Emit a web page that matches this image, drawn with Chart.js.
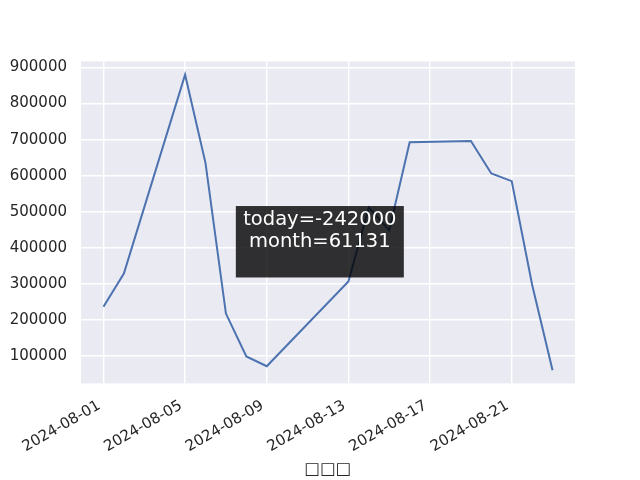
<!DOCTYPE html>
<html>
<head>
  <meta charset="UTF-8">
  <title>Line chart</title>
  <script src="https://cdn.jsdelivr.net/npm/chart.js"></script>
  <style>
    html, body { margin: 0; padding: 0; background: #ffffff; }
    #wrap { width: 640px; height: 480px; }
  </style>
</head>
<body>
  <div id="wrap"><canvas id="lineChart" width="640" height="480"></canvas></div>

  <script>
    // days of August 2024 that have a value
    const days = [1, 2, 5, 6, 7, 8, 9, 13, 14, 15, 16, 19, 20, 21, 22, 23];
    const values = [237000, 329000, 880000, 635000, 218000, 99000, 72000, 307000,
                    512000, 449000, 693000, 696000, 606000, 585000, 298000, 61131];
    const xTickDays = [1, 5, 9, 13, 17, 21];
    const yTicks = [100000, 200000, 300000, 400000, 500000, 600000, 700000, 800000, 900000];
    const xTitle = '□□□';
    const noteLines = ['today=-242000', 'month=61131'];

    const fontFamily = "'DejaVu Sans', sans-serif";

    function dayLabel(d) {
      // trailing space nudges the rotated label a little left/down
      return '2024-08-' + String(d).padStart(2, '0') + ' ';
    }

    // dark text box in the middle of the plot
    const notePlugin = {
      id: 'noteBox',
      afterDatasetsDraw(chart) {
        const ctx = chart.ctx;
        const x = chart.scales.x, y = chart.scales.y;
        const cx = x.getPixelForValue(11.6);
        const top = y.getPixelForValue(516000);
        const bottom = y.getPixelForValue(318000);
        const w = 168;
        ctx.save();
        ctx.fillStyle = 'rgba(0,0,0,0.8)';
        ctx.fillRect(cx - w / 2, top, w, bottom - top);
        ctx.fillStyle = '#ffffff';
        ctx.font = '19.5px ' + fontFamily;
        ctx.textAlign = 'center';
        ctx.textBaseline = 'middle';
        ctx.fillText(noteLines[0], cx, top + 14);
        ctx.fillText(noteLines[1], cx, top + 36);
        ctx.restore();
      }
    };

    // seaborn-like grey plot background
    const bgPlugin = {
      id: 'plotBg',
      beforeDraw(chart) {
        const a = chart.chartArea;
        chart.ctx.save();
        chart.ctx.fillStyle = '#eaeaf2';
        chart.ctx.fillRect(a.left, a.top, a.right - a.left, a.bottom - a.top);
        chart.ctx.restore();
      }
    };

    new Chart(document.getElementById('lineChart').getContext('2d'), {
      type: 'line',
      data: {
        datasets: [{
          data: days.map((d, i) => ({ x: d, y: values[i] })),
          borderColor: '#4c72b0',
          borderWidth: 2,
          pointRadius: 0,
          fill: false,
          tension: 0
        }]
      },
      options: {
        responsive: false,
        animation: false,
        layout: { padding: { left: 0, right: 65, top: 61.5, bottom: 0 } },
        plugins: {
          legend: { display: false },
          tooltip: { enabled: false }
        },
        scales: {
          x: {
            type: 'linear',
            min: -0.1,
            max: 24.1,
            afterBuildTicks(scale) {
              scale.ticks = xTickDays.map(v => ({ value: v }));
            },
            afterFit(scale) { scale.height = 96.6; },
            border: { display: false },
            grid: { color: '#ffffff', lineWidth: 1.4, drawTicks: false },
            ticks: {
              autoSkip: false,
              maxRotation: 30,
              minRotation: 30,
              padding: 11,
              color: '#262626',
              font: { family: fontFamily, size: 15 },
              callback: v => dayLabel(v)
            },
            title: {
              display: true,
              text: xTitle,
              color: '#262626',
              font: { family: fontFamily, size: 16.5 },
              padding: { top: 0, bottom: 0 }
            }
          },
          y: {
            min: 24500,
            max: 916500,
            afterBuildTicks(scale) {
              scale.ticks = yTicks.map(v => ({ value: v }));
            },
            afterFit(scale) { scale.width = 81; },
            border: { display: false },
            grid: { color: '#ffffff', lineWidth: 1.4, drawTicks: false },
            ticks: {
              padding: 14,
              color: '#262626',
              font: { family: fontFamily, size: 15 },
              callback: v => String(v)
            }
          }
        }
      },
      plugins: [bgPlugin, notePlugin]
    });
  </script>
</body>
</html>
